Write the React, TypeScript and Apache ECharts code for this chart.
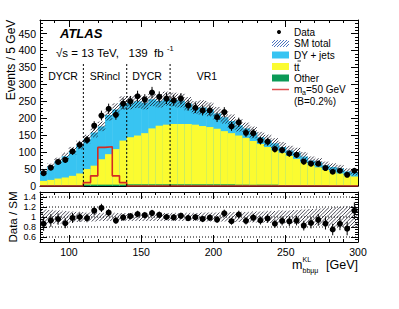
import React, { useEffect, useRef } from "react";
import * as echarts from "echarts";

// ---- data (5 GeV bins) ----
const binLow = [80, 85, 90, 95, 100, 105, 110, 115, 120, 125, 130, 135, 140, 145, 150, 155, 160, 165, 170, 175, 180, 185, 190, 195, 200, 205, 210, 215, 220, 225, 230, 235, 240, 245, 250, 255, 260, 265, 270, 275, 280, 285, 290, 295];
const BIN_W = 5;
const dataCounts = [38, 54, 71, 77, 102, 121, 136, 178, 208, 228, 210, 243, 250, 265, 255, 276, 263, 258, 253, 258, 238, 231, 223, 223, 203, 218, 176, 188, 157, 156, 134, 131, 109, 106, 96, 92, 72, 66, 66, 53, 42, 45, 33, 45];
const otherBkg = [3, 3, 3, 3, 3, 3, 4, 4, 4, 4, 4, 4, 5, 5, 5, 5, 5, 5, 5, 5, 5, 5, 5, 5, 5, 5, 5, 4, 4, 4, 4, 4, 4, 3, 3, 3, 3, 3, 3, 3, 2, 2, 2, 2];
const ttbarBkg = [12, 15, 19, 22, 27, 34, 46, 56, 75, 90, 105, 130, 139, 144, 151, 165, 173, 176, 178, 178, 178, 176, 172, 169, 164, 157, 151, 145, 138, 129, 120, 111, 102, 95, 86, 77, 67, 59, 52, 45, 40, 35, 29, 26];
const dyJets = [29, 40, 52, 63, 74, 84, 89, 98, 97, 116, 117, 111, 102, 101, 90, 86, 74, 77, 72, 69, 60, 51, 55, 52, 45, 41, 36, 30, 28, 25, 20, 20, 20, 17, 16, 19, 17, 13, 15, 13, 14, 15, 12, 12];
const signalMa50 = [0, 0, 0, 0, 0, 0, 10, 30, 114, 116, 30, 10, 0, 0, 0, 0, 0, 0, 0, 0, 0, 0, 0, 0, 0, 0, 0, 0, 0, 0, 0, 0, 0, 0, 0, 0, 0, 0, 0, 0, 0, 0, 0, 0];
const smRelUnc = [0.15, 0.14, 0.13, 0.12, 0.11, 0.10, 0.09, 0.09, 0.08, 0.08, 0.08, 0.08, 0.08, 0.08, 0.08, 0.08, 0.08, 0.08, 0.08, 0.08, 0.08, 0.08, 0.09, 0.09, 0.09, 0.09, 0.10, 0.10, 0.10, 0.11, 0.11, 0.12, 0.12, 0.13, 0.13, 0.14, 0.15, 0.16, 0.17, 0.18, 0.19, 0.20, 0.21, 0.22];
const xTickLabels = [100, 150, 200, 250, 300];
const ratioTickLabels = [0.6, 0.8, 1, 1.2, 1.4];
const regionEdges = [110, 140, 170];
const REGION_LINE_TOP = 360;

const FONT = "'Liberation Sans', Arial, Helvetica, sans-serif";
const C_DY = "#38c4f2";
const C_TT = "#fbfb30";
const C_OTHER = "#0b9a57";
const C_SIG = "#d42a22";
const C_HATCH = "#1e1e2e";

function hatchLines(xl: number, xr: number, yt: number, yb: number, sp: number, color: string, lw: number) {
  const out: any[] = [];
  const cStart = Math.ceil((xl + yt) / sp) * sp;
  for (let c = cStart; c <= xr + yb; c += sp) {
    const xa = Math.max(xl, c - yb);
    const xb = Math.min(xr, c - yt);
    if (xb > xa) {
      out.push({ type: "line", shape: { x1: xa, y1: c - xa, x2: xb, y2: c - xb }, style: { stroke: color, lineWidth: lw } });
    }
  }
  return out;
}

export default function App() {
  const ref = useRef<HTMLDivElement>(null);
  useEffect(() => {
    document.body.style.margin = "0";
    if (!ref.current) return;
    const chart = echarts.init(ref.current, undefined, { renderer: "svg" });

    const sm = binLow.map((_, i) => otherBkg[i] + ttbarBkg[i] + dyJets[i]);
    const stackRows = binLow.map((x, i) => [x, x + BIN_W, otherBkg[i], ttbarBkg[i], dyJets[i]]);
    const bandRows = binLow.map((x, i) => [x, x + BIN_W, sm[i] * (1 - smRelUnc[i]), sm[i] * (1 + smRelUnc[i])]);
    const ratioBandRows = binLow.map((x, i) => [x, x + BIN_W, 1 - smRelUnc[i], 1 + smRelUnc[i]]);
    const dataRows = binLow.map((x, i) => [x + BIN_W / 2, dataCounts[i], Math.sqrt(dataCounts[i])]);
    const ratioRows = binLow.map((x, i) => [x + BIN_W / 2, dataCounts[i] / sm[i], Math.sqrt(dataCounts[i]) / sm[i]]);
    const sigLine = binLow.map((x, i) => [x, signalMa50[i]]);
    sigLine.push([300, signalMa50[signalMa50.length - 1]]);

    const tick = { color: "#000", width: 1 };
    const fs = 10.5;
    const xAxesFor = (grid: number, labels: boolean) => {
      const base: any = { type: "value", gridIndex: grid, min: 80, max: 300, splitLine: { show: false } };
      const minor = (pos: string) => ({ ...base, position: pos, interval: 10, axisLine: { show: true, onZero: false, lineStyle: { color: "#000", width: 1 } }, axisTick: { show: true, inside: true, length: 3, lineStyle: tick }, axisLabel: { show: false } });
      const major = (pos: string, lab: boolean) => ({ ...base, position: pos, axisLine: { show: false, onZero: false }, axisTick: { show: true, inside: true, length: 7, customValues: xTickLabels, lineStyle: tick }, axisLabel: lab ? { show: true, customValues: xTickLabels, fontSize: fs, color: "#000", fontFamily: FONT, margin: 4 } : { show: false } });
      return [minor("bottom"), major("bottom", labels), minor("top"), major("top", false)];
    };

    const option: any = {
      animation: false,
      grid: [
        { left: 40, top: 20, width: 318, height: 166 },
        { left: 40, top: 192, width: 318, height: 50 },
      ],
      xAxis: [...xAxesFor(0, false), ...xAxesFor(1, true)],
      yAxis: [
        { type: "value", gridIndex: 0, position: "left", min: 0, max: 490, interval: 50, splitLine: { show: false }, axisLine: { show: true, onZero: false, lineStyle: { color: "#000" } }, axisTick: { show: true, inside: true, length: 7, lineStyle: tick }, minorTick: { show: true, splitNumber: 5, length: 3, lineStyle: tick }, axisLabel: { fontSize: fs, color: "#000", fontFamily: FONT, margin: 4, formatter: (v: number) => (v <= 450 ? String(v) : "") } },
        { type: "value", gridIndex: 0, position: "right", min: 0, max: 490, interval: 50, splitLine: { show: false }, axisLine: { show: true, onZero: false, lineStyle: { color: "#000" } }, axisTick: { show: true, inside: true, length: 7, lineStyle: tick }, minorTick: { show: true, splitNumber: 5, length: 3, lineStyle: tick }, axisLabel: { show: false } },
        { type: "value", gridIndex: 1, position: "left", min: 0.5, max: 1.5, interval: 0.05, splitLine: { show: false }, axisLine: { show: true, onZero: false, lineStyle: { color: "#000" } }, axisTick: { show: true, inside: true, length: 3, lineStyle: tick }, axisLabel: { show: false } },
        { type: "value", gridIndex: 1, position: "left", min: 0.5, max: 1.5, splitLine: { show: false }, axisLine: { show: false, onZero: false }, axisTick: { show: true, inside: true, length: 7, customValues: ratioTickLabels, lineStyle: tick }, axisLabel: { show: true, customValues: ratioTickLabels, hideOverlap: false, fontSize: 9, lineHeight: 9, color: "#000", fontFamily: FONT, margin: 4 } },
        { type: "value", gridIndex: 1, position: "right", min: 0.5, max: 1.5, interval: 0.05, splitLine: { show: false }, axisLine: { show: true, onZero: false, lineStyle: { color: "#000" } }, axisTick: { show: true, inside: true, length: 3, lineStyle: tick }, axisLabel: { show: false } },
        { type: "value", gridIndex: 1, position: "right", min: 0.5, max: 1.5, splitLine: { show: false }, axisLine: { show: false, onZero: false }, axisTick: { show: true, inside: true, length: 7, customValues: ratioTickLabels, lineStyle: tick }, axisLabel: { show: false } },
      ],
      series: [
        {
          type: "custom", xAxisIndex: 0, yAxisIndex: 0, clip: true, data: stackRows, encode: { x: [0, 1], y: [2, 3, 4] },
          renderItem: (_p: any, api: any) => {
            const lo = api.value(0), hi = api.value(1);
            const o = api.value(2), t = api.value(3), d = api.value(4);
            const lv = [0, o, o + t, o + t + d];
            const cols = [C_OTHER, C_TT, C_DY];
            const children: any[] = [];
            for (let k = 2; k >= 0; k--) {
              const p0 = api.coord([lo, 0]);
              const p1 = api.coord([hi, lv[k + 1]]);
              children.push({ type: "rect", shape: { x: p0[0], y: p1[1], width: p1[0] - p0[0] + 0.5, height: p0[1] - p1[1] }, style: { fill: cols[k] } });
            }
            return { type: "group", children };
          },
        },
        {
          type: "line", xAxisIndex: 0, yAxisIndex: 0, step: "end", data: sigLine, symbol: "none", lineStyle: { color: C_SIG, width: 1.6 }, z: 3,
        },
        {
          type: "custom", xAxisIndex: 0, yAxisIndex: 0, clip: true, data: bandRows, encode: { x: [0, 1], y: [2, 3] }, z: 4,
          renderItem: (_p: any, api: any) => {
            const a = api.coord([api.value(0), api.value(3)]);
            const b = api.coord([api.value(1), api.value(2)]);
            return { type: "group", children: hatchLines(a[0], b[0], a[1], b[1], 3.2, C_HATCH, 0.85) };
          },
        },
        {
          type: "custom", xAxisIndex: 0, yAxisIndex: 0, data: regionEdges.map((x) => [x, 0, REGION_LINE_TOP]), encode: { x: 0, y: [1, 2] }, z: 4,
          renderItem: (_p: any, api: any) => {
            const a = api.coord([api.value(0), api.value(1)]);
            const b = api.coord([api.value(0), api.value(2)]);
            return { type: "line", shape: { x1: a[0], y1: a[1], x2: b[0], y2: b[1] }, style: { stroke: "#000", lineWidth: 1, lineDash: [2, 2] } };
          },
        },
        {
          type: "custom", xAxisIndex: 0, yAxisIndex: 0, data: dataRows, encode: { x: 0, y: 1 }, z: 6,
          renderItem: (_p: any, api: any) => {
            const x = api.value(0), y = api.value(1), e = api.value(2);
            const c = api.coord([x, y]);
            const t = api.coord([x, y + e]);
            const b = api.coord([x, Math.max(0, y - e)]);
            return {
              type: "group",
              children: [
                { type: "line", shape: { x1: c[0], y1: t[1], x2: c[0], y2: b[1] }, style: { stroke: "#000", lineWidth: 1 } },
                { type: "circle", shape: { cx: c[0], cy: c[1], r: 3 }, style: { fill: "#000" } },
              ],
            };
          },
        },
        // ratio panel
        {
          type: "custom", xAxisIndex: 4, yAxisIndex: 2, data: ratioTickLabels.map((v) => [80, 300, v]), encode: { x: [0, 1], y: 2 }, z: 2,
          renderItem: (_p: any, api: any) => {
            const a = api.coord([api.value(0), api.value(2)]);
            const b = api.coord([api.value(1), api.value(2)]);
            return { type: "line", shape: { x1: a[0], y1: a[1], x2: b[0], y2: b[1] }, style: { stroke: "#000", lineWidth: 1, lineDash: [1, 2] } };
          },
        },
        {
          type: "custom", xAxisIndex: 4, yAxisIndex: 2, clip: true, data: ratioBandRows, encode: { x: [0, 1], y: [2, 3] }, z: 3,
          renderItem: (_p: any, api: any) => {
            const a = api.coord([api.value(0), api.value(3)]);
            const b = api.coord([api.value(1), api.value(2)]);
            return { type: "group", children: hatchLines(a[0], b[0], a[1], b[1], 3.6, C_HATCH, 0.8) };
          },
        },
        {
          type: "custom", xAxisIndex: 4, yAxisIndex: 2, clip: true, data: ratioRows, encode: { x: 0, y: 1 }, z: 6,
          renderItem: (_p: any, api: any) => {
            const x = api.value(0), y = api.value(1), e = api.value(2);
            const c = api.coord([x, y]);
            const t = api.coord([x, y + e]);
            const b = api.coord([x, y - e]);
            return {
              type: "group",
              children: [
                { type: "line", shape: { x1: c[0], y1: t[1], x2: c[0], y2: b[1] }, style: { stroke: "#000", lineWidth: 1 } },
                { type: "circle", shape: { cx: c[0], cy: c[1], r: 3 }, style: { fill: "#000" } },
              ],
            };
          },
        },
      ],
      graphic: [
        { type: "text", x: 11, y: 60, rotation: Math.PI / 2, style: { text: "Events / 5 GeV", font: `12px ${FONT}`, fill: "#000", align: "center", verticalAlign: "middle" } },
        { type: "text", x: 13, y: 217, rotation: Math.PI / 2, style: { text: "Data / SM", font: `11.5px ${FONT}`, fill: "#000", align: "center", verticalAlign: "middle" } },
        { type: "text", x: 60, y: 33, style: { text: "ATLAS", font: `italic bold 13px ${FONT}`, fill: "#000", align: "left", verticalAlign: "middle" } },
        { type: "text", x: 56, y: 53, style: { text: "\u221As = 13 TeV,   139  fb", font: `11.5px ${FONT}`, fill: "#000", align: "left", verticalAlign: "middle" } },
        { type: "text", x: 167, y: 48, style: { text: "-1", font: `7.5px ${FONT}`, fill: "#000", align: "left", verticalAlign: "middle" } },
        { type: "text", x: 63, y: 76, style: { text: "DYCR", font: `10.5px ${FONT}`, fill: "#000", align: "center", verticalAlign: "middle" } },
        { type: "text", x: 105, y: 76, style: { text: "SRincl", font: `10.5px ${FONT}`, fill: "#000", align: "center", verticalAlign: "middle" } },
        { type: "text", x: 147, y: 76, style: { text: "DYCR", font: `10.5px ${FONT}`, fill: "#000", align: "center", verticalAlign: "middle" } },
        { type: "text", x: 207, y: 76, style: { text: "VR1", font: `10.5px ${FONT}`, fill: "#000", align: "center", verticalAlign: "middle" } },
        // legend
        { type: "circle", shape: { cx: 279, cy: 32, r: 2 }, style: { fill: "#000" } },
        { type: "text", x: 294, y: 32, style: { text: "Data", font: `10px ${FONT}`, fill: "#000", verticalAlign: "middle" } },
        { type: "group", children: hatchLines(272, 289, 40, 47, 3, "#3a64b8", 0.9) },
        { type: "text", x: 294, y: 43.5, style: { text: "SM total", font: `10px ${FONT}`, fill: "#000", verticalAlign: "middle" } },
        { type: "rect", shape: { x: 272, y: 51.5, width: 17, height: 7 }, style: { fill: C_DY } },
        { type: "text", x: 294, y: 55, style: { text: "DY + jets", font: `10px ${FONT}`, fill: "#000", verticalAlign: "middle" } },
        { type: "rect", shape: { x: 272, y: 63, width: 17, height: 7 }, style: { fill: C_TT } },
        { type: "text", x: 294, y: 67, style: { text: "tt", font: `10px ${FONT}`, fill: "#000", verticalAlign: "middle" } },
        { type: "line", shape: { x1: 297.5, y1: 61, x2: 301, y2: 61 }, style: { stroke: "#000", lineWidth: 0.8 } },
        { type: "rect", shape: { x: 272, y: 74.5, width: 17, height: 7 }, style: { fill: C_OTHER } },
        { type: "text", x: 294, y: 78, style: { text: "Other", font: `10px ${FONT}`, fill: "#000", verticalAlign: "middle" } },
        { type: "line", shape: { x1: 272, y1: 89.5, x2: 289, y2: 89.5 }, style: { stroke: "#e05050", lineWidth: 1.5 } },
        { type: "text", x: 294, y: 89.5, style: { text: "m", font: `10px ${FONT}`, fill: "#000", verticalAlign: "middle" } },
        { type: "text", x: 302, y: 92.5, style: { text: "a", font: `7px ${FONT}`, fill: "#000", verticalAlign: "middle" } },
        { type: "text", x: 306, y: 89.5, style: { text: "=50 GeV", font: `10px ${FONT}`, fill: "#000", verticalAlign: "middle" } },
        { type: "text", x: 294, y: 101, style: { text: "(B=0.2%)", font: `10px ${FONT}`, fill: "#000", verticalAlign: "middle" } },
        // x title
        { type: "text", x: 292, y: 265, style: { text: "m", font: `12.5px ${FONT}`, fill: "#000", verticalAlign: "middle" } },
        { type: "text", x: 302.5, y: 259.5, style: { text: "KL", font: `7px ${FONT}`, fill: "#000", verticalAlign: "middle" } },
        { type: "text", x: 302.5, y: 270, style: { text: "bb\u03BC\u03BC", font: `7px ${FONT}`, fill: "#000", verticalAlign: "middle" } },
        { type: "text", x: 358, y: 265, style: { text: "[GeV]", font: `12.5px ${FONT}`, fill: "#000", align: "right", verticalAlign: "middle" } },
      ],
    };
    chart.setOption(option);
    return () => chart.dispose();
  }, []);
  return <div ref={ref} style={{ width: 399, height: 309 }} />;
}
